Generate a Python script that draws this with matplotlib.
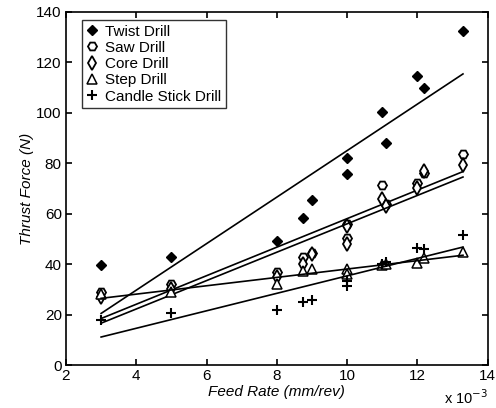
import numpy as np
import matplotlib
matplotlib.use("Agg")
import matplotlib.pyplot as plt

plt.rcParams['font.family'] = ['Liberation Sans', 'DejaVu Sans']

# feed rate in units of 1e-3 mm/rev
feed = [3, 5, 8, 8.75, 9, 10, 10, 11, 11.1, 12, 12.2, 13.3]
twist = [39.5, 42.7, 49, 58.5, 65.5, 75.8, 82, 100.4, 88, 114.7, 110, 132.5]
saw = [29, 32, 37, 43, 44.5, 56, 50.5, 71.5, 64, 72, 76, 83.5]
core = [27, 30, 35, 40, 44, 48, 55, 66, 63, 70, 77, 79.5]
step = [28, 29, 32, 37.5, 38, 38, 36, 39.5, 40, 40.5, 42.5, 45]
candle = [18, 20.5, 22, 25, 26, 33.5, 31.5, 40, 41, 46.5, 46, 51.5]

series = [
    ("Twist Drill", twist, dict(marker='D', ms=5.5, mfc='black', mec='black')),
    ("Saw Drill", saw, dict(marker='H', ms=6.5, mfc='white', mec='black', mew=1.3)),
    ("Core Drill", core, dict(marker='d', ms=7, mfc='white', mec='black', mew=1.3)),
    ("Step Drill", step, dict(marker='^', ms=6.5, mfc='white', mec='black', mew=1.1)),
    ("Candle Stick Drill", candle, dict(marker='+', ms=7, mec='black', mew=1.5)),
]

fig = plt.figure(figsize=(4.96, 4.08), dpi=100)
ax = fig.add_axes([0.133, 0.105, 0.850, 0.866])

f = np.array(feed)
xs = np.array([min(feed), max(feed)])
for name, vals, style in series:
    ax.plot(feed, vals, linestyle='none', color='black', label=name, **style)
    k, b = np.polyfit(f, np.array(vals), 1)
    ax.plot(xs, k * xs + b, color='black', lw=1.2)

ax.set_xlim(2, 14)
ax.set_ylim(0, 140)
ax.set_xticks(range(2, 15, 2))
ax.set_yticks(range(0, 141, 20))
ax.tick_params(direction='in', top=True, right=True, labelsize=11, length=4, width=1.2, pad=3)
for s in ax.spines.values():
    s.set_linewidth(1.2)

ax.set_xlabel("Feed Rate (mm/rev)", fontstyle='italic', fontsize=11, labelpad=1)
ax.set_ylabel("Thrust Force (N)", fontstyle='italic', fontsize=11, labelpad=2)
ax.text(1.0, -0.065, r"x 10$^{-3}$", transform=ax.transAxes, ha='right', va='top', fontsize=10.5)

leg = ax.legend(loc='upper left', bbox_to_anchor=(0.038, 0.977), borderaxespad=0,
                fontsize=11, frameon=True, fancybox=False,
                edgecolor='black', handlelength=0.7, handletextpad=0.5,
                borderpad=0.3, labelspacing=0.15)
leg.get_frame().set_linewidth(1.0)

fig.savefig("out.png", dpi=100)
